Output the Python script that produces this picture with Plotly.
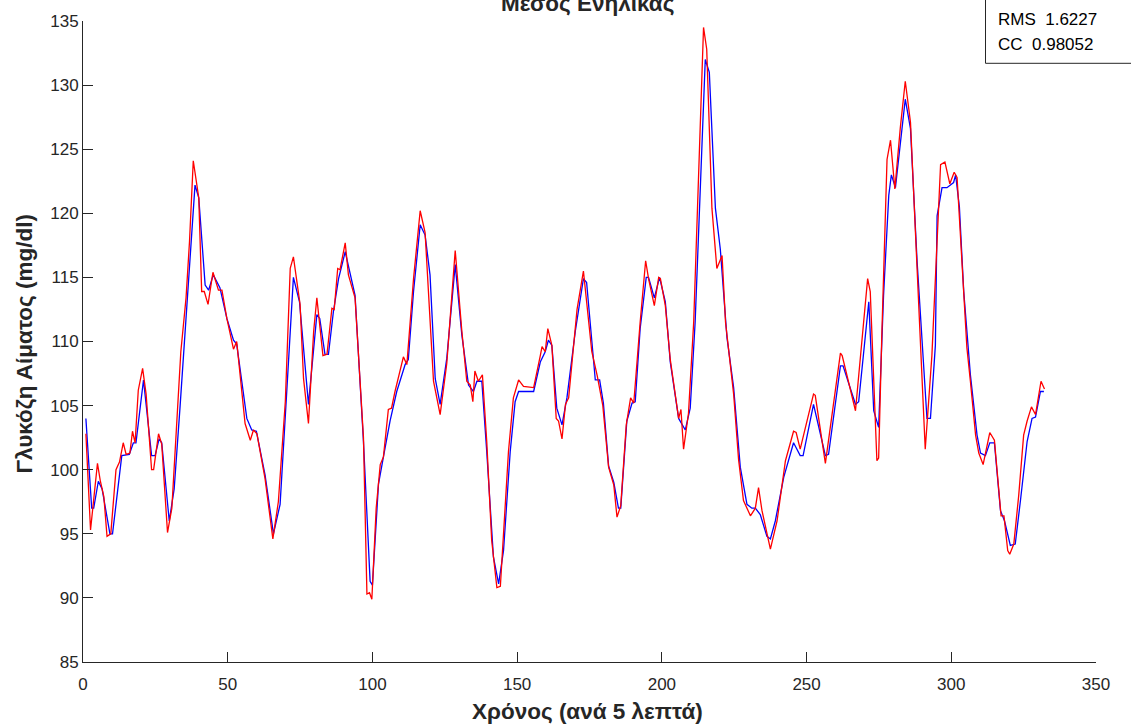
import plotly.graph_objects as go

blue_x = [1, 3, 3.7, 5.3, 6.6, 9.3, 10.2, 13.4, 16.0, 17.4, 18.3, 20.9, 23.7, 24.9, 26.3, 27.2, 29.8, 31.5,
          33.5, 35.8, 38.7, 40.0, 42.2, 43.4, 45.0, 47.3, 49.7, 52.0, 53.1, 56.6, 58.3, 59.9, 62.9, 65.8,
          68.1, 70.4, 72.7, 74.8, 77.9, 80.8, 81.8, 83.6, 84.8, 86.5, 88.3, 90.6, 92.3, 94.0, 96.9, 99.2,
          100.0, 102.1, 103.8, 106.1, 108.4, 111.3, 112.4, 114.2, 116.5, 118.2, 119.9, 121.7, 123.4, 125.7,
          128.6, 130.9, 133.2, 134.9, 136.1, 137.8, 139.5, 141.8, 143.6, 145.3, 147.6, 149.3, 150.5, 155.7,
          158.0, 159.7, 160.8, 162.0, 163.7, 165.5, 167.2, 170.1, 172.9, 174.0, 177.0, 178.5, 179.8, 181.6,
          183.4, 185.0, 185.8, 187.9, 189.7, 190.8, 192.5, 194.6, 195.4, 197.4, 199.2, 201.2, 202.9, 205.8,
          208.1, 209.8, 211.5, 213.3, 215.0, 216.4, 218.5, 220.2, 222.5, 224.8, 227.1, 229.4, 231.1, 232.3,
          234.0, 236.3, 237.5, 239.2, 242.1, 245.5, 247.8, 248.8, 252.4, 256.5, 257.6, 261.7, 262.6, 266.9,
          268.0, 271.5, 273.2, 274.9, 276.6, 278.4, 279.3, 280.7, 282.4, 284.1, 285.9, 288.2, 291.6, 292.8,
          294.5, 295.1, 296.8, 298.5, 300.8, 301.5, 302.8, 304.3, 306.6, 308.9, 310.1, 311.8, 313.3, 314.9,
          317.0, 318.4, 320.4, 322.1, 323.9, 326.2, 327.9, 329.1, 330.8, 332.0]
blue_y = [104.0, 97.0, 97.0, 99.1, 98.5, 95.0, 95.0, 101.1, 101.2, 102.1, 102.1, 107.0, 101.1, 101.1, 102.4,
          102.1, 96.0, 98.5, 104.8, 112.6, 122.2, 121.2, 114.4, 114.0, 115.2, 114.2, 111.8, 110.1, 109.8,
          104.0, 103.1, 103.0, 99.6, 95.0, 97.3, 106.1, 115.0, 113.1, 105.1, 112.1, 111.8, 109.0, 109.0,
          112.3, 114.9, 117.0, 115.2, 113.6, 102.2, 91.3, 91.0, 98.9, 101.0, 103.8, 106.1, 108.2, 108.6,
          113.9, 119.1, 118.3, 115.2, 107.1, 105.1, 108.7, 116.0, 110.5, 106.6, 106.1, 106.9, 106.9, 101.4,
          93.2, 91.1, 93.7, 101.4, 105.3, 106.1, 106.1, 108.4, 109.2, 110.1, 109.7, 104.8, 103.5, 105.6,
          110.8, 114.9, 114.6, 107.0, 107.0, 105.2, 100.3, 99.0, 97.0, 97.0, 103.8, 105.2, 105.3, 111.0,
          115.0, 115.0, 113.4, 115.0, 113.1, 108.4, 104.0, 103.1, 104.8, 111.5, 121.9, 132.0, 131.0, 120.4,
          117.2, 110.3, 106.4, 100.2, 97.3, 97.0, 97.0, 96.5, 94.8, 94.6, 96.0, 99.4, 102.1, 101.1, 101.1,
          105.1, 101.1, 101.2, 108.1, 108.1, 105.1, 105.3, 113.1, 104.6, 103.3, 113.6, 121.4, 123.0, 122.0,
          125.5, 128.9, 126.6, 116.2, 104.0, 104.0, 109.7, 119.8, 122.0, 122.0, 122.4, 123.0, 120.5, 113.9,
          107.4, 102.7, 101.3, 101.1, 102.1, 102.1, 96.8, 96.0, 94.1, 94.2, 97.6, 102.2, 104.0, 104.1,
          106.1, 106.1]

# Red series (model) – vertices
red_x = [1.0, 2.6, 5.0, 6.0, 7.2, 8.3, 9.6, 11.4, 12.6, 13.9, 14.9, 16.2, 17.1, 18.0, 19.1, 20.6, 21.8, 23.7,
         24.4, 26.1, 27.2, 29.2, 30.7, 32.4, 33.8, 35.6, 36.8, 38.1, 40.0, 41.0, 41.9, 43.2, 44.9, 46.8,
         48.0, 49.7, 52.0, 53.1, 56.0, 57.8, 58.9, 60.1, 62.9, 65.6, 67.5, 69.9, 71.6, 72.7, 75.0, 76.2,
         77.9, 79.7, 80.8, 82.9, 84.3, 86.0, 86.8, 88.0, 88.8, 90.6, 91.7, 94.0, 96.9, 98.1, 99.0, 99.8,
         101.3, 102.7, 103.8, 105.5, 106.6, 107.8, 110.7, 111.9, 114.2, 116.5, 118.2, 121.1, 123.4, 125.7,
         128.6, 130.9, 132.6, 133.8, 134.7, 135.4, 136.6, 138.0, 139.5, 141.2, 143.0, 144.2, 147.0, 148.7,
         150.5, 152.2, 155.7, 158.0, 158.6, 159.7, 160.6, 162.0, 163.5, 164.3, 165.5, 166.7, 167.8, 170.7,
         172.9, 175.8, 177.7, 179.6, 181.6, 183.4, 184.5, 185.8, 187.7, 189.2, 190.3, 192.5, 194.4, 195.4,
         197.4, 198.9, 199.5, 201.2, 202.9, 205.8, 206.6, 207.5, 209.2, 211.0, 212.7, 214.4, 215.5, 217.3,
         219.0, 220.8, 222.0, 224.8, 226.5, 228.2, 230.6, 232.3, 233.4, 234.6, 237.5, 239.8, 242.7, 245.5,
         246.4, 247.8, 252.4, 253.0, 256.5, 261.7, 262.3, 266.9, 271.1, 272.0, 274.3, 274.9, 276.0, 277.8,
         279.0, 280.5, 282.4, 284.1, 285.9, 288.2, 291.0, 293.3, 294.5, 296.3, 297.8, 299.5, 301.0, 302.0,
         303.1, 305.4, 306.6, 308.4, 309.5, 311.0, 313.3, 314.9, 317.2, 318.2, 319.5, 320.2, 321.6, 323.3,
         325.0, 326.2, 327.7, 329.1, 331.0, 332.2]
red_y = [102.8, 95.3, 100.5, 99.1, 97.9, 94.8, 95.0, 100.0, 100.6, 102.1, 101.2, 101.3, 103.0, 102.1, 106.2,
         107.9, 105.9, 100.0, 100.0, 102.8, 102.0, 95.1, 97.0, 103.4, 109.2, 113.4, 117.8, 124.1, 121.2,
         113.9, 113.9, 112.9, 115.4, 114.0, 114.0, 111.8, 109.4, 110.0, 103.6, 102.3, 103.1, 102.8, 99.3,
         94.6, 97.5, 105.3, 115.7, 116.6, 112.9, 107.1, 103.6, 110.8, 113.4, 108.9, 109.0, 112.6, 112.5,
         115.7, 115.6, 117.7, 115.2, 113.4, 102.5, 90.3, 90.4, 89.9, 97.0, 100.4, 101.0, 104.7, 104.8,
         106.1, 108.8, 108.2, 114.9, 120.2, 118.5, 106.9, 104.3, 108.3, 117.1, 110.8, 106.9, 106.6, 105.3,
         107.7, 106.9, 107.4, 102.2, 94.5, 90.8, 90.9, 101.4, 105.6, 107.0, 106.5, 106.4, 108.9, 109.6,
         109.2, 111.0, 109.7, 104.0, 103.8, 102.4, 105.1, 105.6, 112.5, 115.5, 109.2, 107.3, 105.0, 100.2,
         98.8, 96.3, 97.2, 103.5, 105.6, 105.2, 111.5, 116.3, 114.9, 112.8, 115.0, 114.9, 112.8, 108.6,
         104.0, 104.7, 101.6, 104.4, 111.5, 123.2, 134.5, 132.8, 120.4, 115.7, 116.7, 111.5, 105.9, 100.8,
         97.6, 96.4, 97.0, 98.6, 96.8, 93.8, 96.0, 100.7, 103.0, 102.9, 101.6, 105.9, 105.8, 100.5, 109.1,
         108.9, 104.6, 114.9, 113.9, 100.7, 100.9, 110.5, 124.2, 125.7, 121.9, 126.7, 130.3, 127.1, 115.7,
         101.6, 108.9, 114.7, 123.8, 124.0, 122.3, 123.2, 122.8, 118.5, 109.5, 106.9, 102.7, 101.3, 100.4,
         102.9, 102.3, 96.4, 96.4, 93.7, 93.4, 94.2, 98.0, 102.7, 103.8, 104.9, 104.3, 106.9, 106.3]

title_text = "Μέσος Ενήλικας"
x_title = "Χρόνος (ανά 5 λεπτά)"
y_title = "Γλυκόζη Αίματος (mg/dl)"
stats_lines = ["RMS  1.6227", "CC  0.98052"]

TXT = "#262626"
FONT = "Liberation Sans, Arial, sans-serif"

fig = go.Figure()
fig.add_trace(go.Scatter(x=blue_x, y=blue_y, mode="lines",
                         line=dict(color="#0000FF", width=1.3), showlegend=False, hoverinfo="skip"))
fig.add_trace(go.Scatter(x=red_x, y=red_y, mode="lines",
                         line=dict(color="#FF0000", width=1.3), showlegend=False, hoverinfo="skip"))

L, T, R, B = 83, 18, 1131 - 1096, 727 - 662
W, H = 1131, 727
pw, ph = W - L - R, H - T - B

def px2x(px):
    return (px - L) / pw

def py2y(py):
    return (H - B - py) / ph

axis_common = dict(showline=True, linecolor=TXT, linewidth=1, ticks="inside", ticklen=10,
                   tickcolor=TXT, tickwidth=1, showgrid=False, zeroline=False, mirror=False,
                   tickfont=dict(family=FONT, size=17, color=TXT))

fig.update_layout(
    width=W, height=H,
    margin=dict(l=L, r=R, t=T, b=B),
    paper_bgcolor="white", plot_bgcolor="white",
    xaxis=dict(range=[0, 350], dtick=50, tick0=0, ticklabelstandoff=7, **axis_common),
    yaxis=dict(range=[85, 135], dtick=5, tick0=85, **axis_common),
    annotations=[
        dict(text="<b>%s</b>" % title_text, xref="paper", yref="paper", x=px2x(587), y=py2y(0),
             xanchor="center", yanchor="middle", showarrow=False,
             font=dict(family=FONT, size=22.5, color=TXT)),
        dict(text="<b>%s</b>" % x_title, xref="paper", yref="paper", x=px2x(587), y=py2y(712),
             xanchor="center", yanchor="middle", showarrow=False,
             font=dict(family=FONT, size=22.5, color=TXT)),
        dict(text="<b>%s</b>" % y_title, xref="paper", yref="paper", x=px2x(24), y=py2y(342),
             xanchor="center", yanchor="middle", showarrow=False, textangle=-90,
             font=dict(family=FONT, size=22.5, color=TXT)),
        dict(text=stats_lines[0], xref="paper", yref="paper", x=px2x(996), y=py2y(16),
             xanchor="left", yanchor="middle", showarrow=False,
             font=dict(family=FONT, size=17, color="black")),
        dict(text=stats_lines[1], xref="paper", yref="paper", x=px2x(996), y=py2y(42),
             xanchor="left", yanchor="middle", showarrow=False,
             font=dict(family=FONT, size=17, color="black")),
    ],
    shapes=[
        dict(type="rect", xref="paper", yref="paper", x0=px2x(985.5), x1=px2x(1145),
             y0=py2y(60.5), y1=py2y(-5), line=dict(color=TXT, width=1), fillcolor="white",
             layer="above"),
    ],
)

fig.write_html("out.html", config={"displayModeBar": False},
               post_script="document.body.style.margin='0';document.body.style.overflow='hidden';")
